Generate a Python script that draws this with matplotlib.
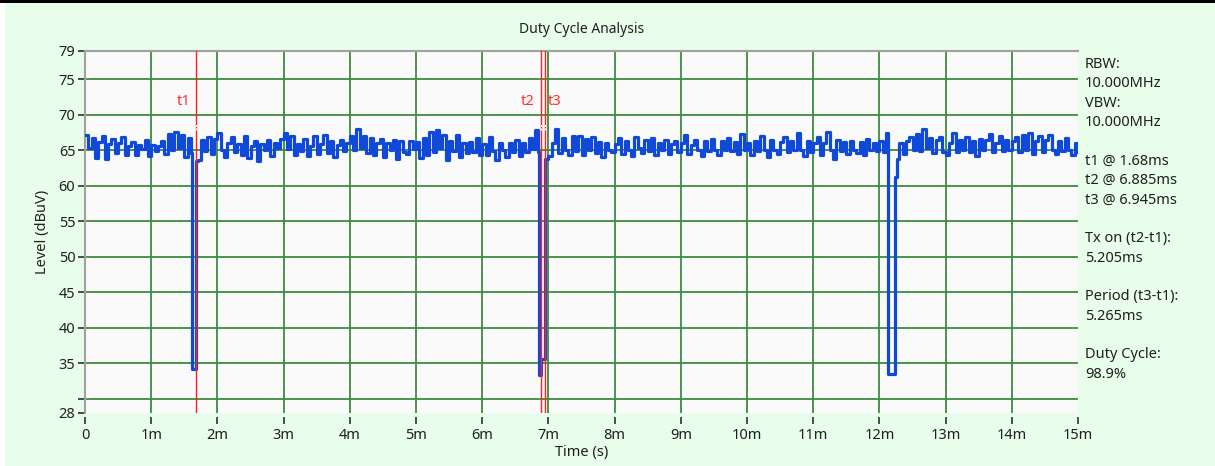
import numpy as np
import matplotlib
matplotlib.use('Agg')
import matplotlib.pyplot as plt
from matplotlib.patches import Rectangle

W, H = 1215, 466

# baseline level, one sample every 0.05 ms from 0 to 15 ms
step_ms = 0.05
level = [
    67.2, 65.4, 66.8, 63.9, 66.2, 67.0, 63.8, 65.9, 66.6, 64.6, 66.0, 66.9, 64.4, 65.6, 66.2, 64.3, 65.8, 65.2, 66.5, 64.2,
    65.8, 64.9, 65.6, 66.3, 64.5, 67.3, 65.0, 67.6, 65.4, 67.1, 64.1, 66.8, 64.6, 64.5, 63.6, 66.4, 64.9, 66.9, 64.5, 66.6,
    67.4, 65.0, 64.1, 66.0, 66.9, 64.8, 65.9, 64.4, 67.0, 63.9, 65.6, 66.3, 63.5, 65.9, 65.0, 66.5, 64.2, 66.1, 65.3, 66.6,
    67.5, 65.2, 67.0, 64.4, 65.9, 64.9, 66.6, 64.2, 65.6, 67.0, 64.5, 65.9, 67.1, 64.7, 66.3, 64.1, 65.8, 66.5, 64.9, 66.1,
    67.0, 65.1, 68.0, 65.3, 67.0, 64.7, 66.7, 64.4, 66.1, 66.6, 64.1, 66.0, 65.1, 66.4, 63.8, 66.3, 64.8, 64.5, 66.3, 65.2,
    66.2, 63.9, 66.7, 64.4, 67.6, 64.8, 67.8, 65.3, 67.1, 63.7, 66.3, 64.9, 67.2, 64.0, 66.0, 64.6, 66.2, 64.8, 66.8, 64.3,
    65.9, 64.4, 66.9, 64.9, 63.7, 66.1, 65.0, 64.1, 66.1, 64.8, 66.5, 64.2, 66.0, 64.8, 66.8, 65.2, 67.8, 64.8, 66.0, 64.0,
    64.2, 66.0, 68.0, 64.7, 66.8, 65.1, 64.4, 67.0, 64.9, 67.0, 64.3, 66.6, 65.0, 66.9, 64.7, 66.2, 64.1, 66.1, 65.0, 64.8,
    65.9, 66.8, 64.5, 66.3, 65.0, 64.2, 66.9, 65.3, 64.7, 66.5, 64.9, 66.7, 64.3, 66.1, 65.0, 66.4, 64.5, 65.9, 66.3, 64.8,
    66.1, 67.2, 64.5, 65.8, 66.5, 65.1, 64.2, 66.3, 64.9, 66.6, 65.1, 64.4, 66.3, 65.0, 66.7, 64.9, 66.2, 64.5, 67.3, 65.0,
    66.0, 64.4, 66.3, 64.9, 67.0, 65.0, 64.1, 66.5, 65.1, 64.5, 66.2, 66.9, 64.8, 66.3, 65.0, 67.5, 65.1, 64.2, 66.3, 64.8,
    66.1, 66.9, 64.4, 66.1, 67.6, 65.0, 63.8, 66.5, 64.9, 66.2, 64.5, 66.3, 65.1, 64.7, 66.2, 64.4, 66.6, 65.0, 66.1, 64.9,
    66.3, 64.8, 67.4, 64.5, 64.3, 63.6, 66.1, 64.5, 66.3, 66.9, 65.1, 67.3, 64.9, 68.0, 65.4, 66.8, 64.6, 66.4, 66.9, 64.8,
    64.3, 66.0, 67.5, 64.8, 66.5, 65.0, 66.9, 64.8, 66.3, 64.2, 66.6, 65.1, 66.4, 67.3, 64.8, 66.1, 67.0, 64.9, 66.5, 65.0,
    66.3, 66.9, 64.8, 67.1, 65.1, 67.5, 64.5, 66.3, 67.0, 64.8, 66.5, 67.1, 65.0, 64.5, 66.3, 64.9, 66.7, 65.0, 64.3, 66.0,
    64.8,
]

# transmitter-off gaps: (start, end) window, sample times and levels inside it
dips = [
    ((1.62, 1.70), [1.62, 1.675], [34.2, 63.5]),
    ((6.86, 7.00), [6.86, 6.895, 6.955], [33.4, 35.6, 63.8]),
    ((12.13, 12.30), [12.13, 12.235, 12.26], [33.5, 61.2, 63.8]),
]

markers = {'t1': 1.68, 't2': 6.885, 't3': 6.945}

info_lines = [
    (0, 'RBW:'), (1, '10.000MHz'), (2, 'VBW:'), (3, '10.000MHz'),
    (5, 't1 @ 1.68ms'), (6, 't2 @ 6.885ms'), (7, 't3 @ 6.945ms'),
    (9, 'Tx on (t2-t1):'), (10, '5.205ms'),
    (12, 'Period (t3-t1):'), (13, '5.265ms'),
    (15, 'Duty Cycle:'), (16, '98.9%'),
]

x_ticks = list(range(0, 16))
x_labels = ['0'] + [f'{i}m' for i in range(1, 16)]
y_ticks = [28, 30, 35, 40, 45, 50, 55, 60, 65, 70, 75, 79]
y_labels = ['28', '', '35', '40', '45', '50', '55', '60', '65', '70', '75', '79']

plt.rcParams['font.family'] = ['Noto Sans', 'DejaVu Sans']

# assemble trace
t = np.arange(len(level)) * step_ms
v = np.array(level)
keep = np.ones(len(t), dtype=bool)
for (a, b), _, _ in dips:
    keep &= ~((t >= a - 1e-9) & (t < b - 1e-9))
t_all = list(t[keep])
v_all = list(v[keep])
for _, dt, dv in dips:
    t_all += dt
    v_all += dv
order = np.argsort(t_all)
t_all = np.array(t_all)[order]
v_all = np.array(v_all)[order]

fig = plt.figure(figsize=(W / 100, H / 100), dpi=100)
fig.patch.set_facecolor('#e8fdea')
fig.patches.append(Rectangle((0, 0), 5 / W, 1, transform=fig.transFigure,
                             facecolor='white', edgecolor='none', zorder=0))
fig.patches.append(Rectangle((0, 1 - 3 / H), 1, 3 / H, transform=fig.transFigure,
                             facecolor='black', edgecolor='none', zorder=0))

left, right, top, bottom = 85, 1078, 51, 413
ax = fig.add_axes([left / W, 1 - bottom / H, (right - left) / W, (bottom - top) / H])
ax.set_facecolor('#fafafa')
ax.set_xlim(0, 15)
ax.set_ylim(28, 79)

grid_c = '#3d8c3d'
for x in x_ticks[1:-1]:
    ax.axvline(x, color=grid_c, lw=1.3, zorder=1)
for y in [30, 35, 40, 45, 50, 55, 60, 65, 70, 75]:
    ax.axhline(y, color=grid_c, lw=1.3, zorder=1)

ax.plot(t_all, v_all, drawstyle='steps-post', color='#1048d8', lw=2.3, zorder=3)

for name, pos in markers.items():
    ax.axvline(pos, color='#ff2020', lw=1.0, zorder=4)
    ax.plot([pos, pos], [67.9, 68.9], color='white', lw=1.0, ls=(0, (1.5, 1)), zorder=5)
    if name == 't3':
        ax.annotate(name, (pos, 71.9), xytext=(3, 0), textcoords='offset pixels',
                    ha='left', va='center', color='#ff3030', fontsize=10.5)
    else:
        ax.annotate(name, (pos, 71.9), xytext=(-6, 0), textcoords='offset pixels',
                    ha='right', va='center', color='#ff3030', fontsize=10.5)

for s in ['right', 'bottom']:
    ax.spines[s].set_visible(False)
ax.spines['top'].set_color('#a0a0a0')
ax.spines['top'].set_linewidth(1.5)
ax.spines['left'].set_color('#a0a0a0')
ax.spines['left'].set_linewidth(1.5)
ax.spines['bottom'].set_position(('outward', 3))

ax.set_xticks(x_ticks)
ax.set_xticklabels(x_labels)
ax.set_yticks(y_ticks)
ax.set_yticklabels(y_labels)
ax.tick_params(axis='both', direction='out', length=5, width=1.2, color='#303030',
               labelsize=10.5, labelcolor='#202020')
ax.tick_params(axis='x', pad=3)
ax.tick_params(axis='y', pad=2)

ax.set_title('Duty Cycle Analysis', fontsize=10, color='#202020', pad=13)
ax.set_xlabel('Time (s)', fontsize=10.5, color='#202020', labelpad=1)
ax.set_ylabel('Level (dBuV)', fontsize=10.5, color='#202020', labelpad=6)

for slot, txt in info_lines:
    y_px = 68 + slot * 19.35
    fig.text(1085 / W, 1 - y_px / H, txt, ha='left', va='baseline',
             fontsize=10.5, color='#202020')

fig.savefig('out.png', dpi=100, facecolor=fig.get_facecolor())
